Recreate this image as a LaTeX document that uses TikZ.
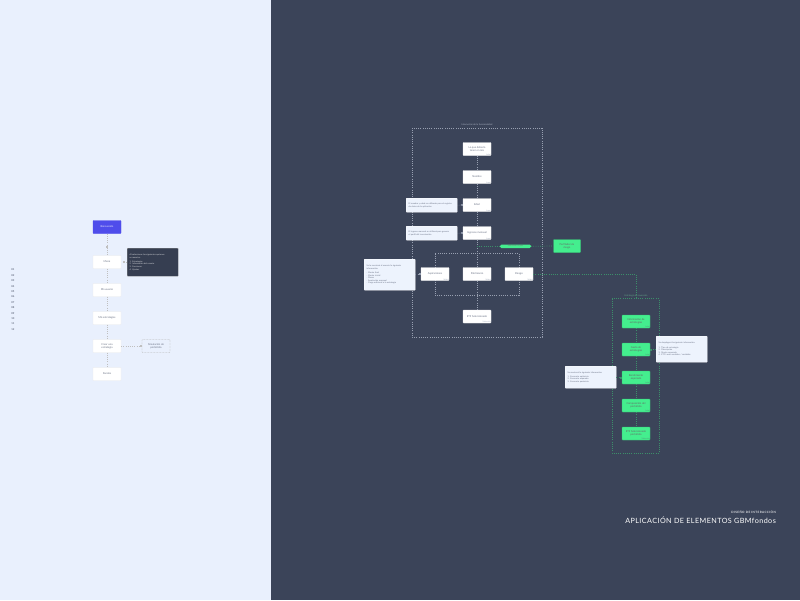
\documentclass[tikz,border=0pt]{standalone}
\usepackage{fontspec}
\setmainfont{Lato}
\usetikzlibrary{arrows.meta}
\definecolor{lightbg}{HTML}{E9F0FD}
\definecolor{darkbg}{HTML}{3B4459}
\definecolor{gbmblue}{HTML}{4F4DEB}
\definecolor{gbmgreen}{HTML}{44EE8E}
\definecolor{notedark}{HTML}{363E51}
\definecolor{notelight}{HTML}{EDF3FD}
\definecolor{linegray}{HTML}{A8B0C0}
\definecolor{txtgray}{HTML}{6B7386}
\definecolor{greenline}{HTML}{3C8F6A}
\tikzset{
  tinyfont/.style={font=\fontsize{2.6}{3.1}\selectfont},
  wbox/.style={rectangle, fill=white, draw=black!8, line width=0.3pt, rounded corners=0.6pt,
    minimum width=28pt, minimum height=13pt, inner sep=0.5pt, align=center, text=txtgray, tinyfont},
  gbox/.style={wbox, fill=gbmgreen, draw=gbmgreen!80!black, text=black!60},
  bbox/.style={wbox, fill=gbmblue, draw=gbmblue, text=white!85!gbmblue},
  lnote/.style={rectangle, fill=notelight, draw=white, line width=0.4pt, rounded corners=0.6pt,
    minimum width=51pt, inner sep=2pt, align=left, text=txtgray, font=\fontsize{2.1}{2.6}\selectfont, anchor=north west},
  dnote/.style={lnote, fill=notedark, draw=black!40, text=white!80!notedark},
  tag/.style={font=\fontsize{2}{2.4}\selectfont, text=linegray, inner sep=0pt, anchor=north east},
  gtag/.style={tag, text=greenline!90!white},
  conn/.style={draw=linegray!85!darkbg, line width=0.7pt, dash pattern=on 0.8pt off 1.4pt},
  lconn/.style={draw=black!25, line width=0.7pt, dash pattern=on 0.8pt off 1.4pt},
  gconn/.style={draw=greenline, line width=0.7pt, dash pattern=on 0.8pt off 1.4pt},
  frame/.style={draw=linegray!85!darkbg, line width=0.7pt, dash pattern=on 0.8pt off 1.4pt},
  gframe/.style={draw=greenline, line width=0.7pt, dash pattern=on 0.8pt off 1.4pt},
  sqtip/.style={-{Square[length=1.6pt,width=1.6pt]}},
  ttl/.style={font=\fontsize{2.3}{2.8}\selectfont, text=linegray, inner sep=0pt},
}
\begin{document}
\begin{tikzpicture}[x=1pt,y=-1pt]
\useasboundingbox (0,0) rectangle (800,600);
\fill[lightbg] (0,0) rectangle (271,600);
\fill[darkbg] (271,0) rectangle (800,600);

% ---------- left legend column ----------
\foreach \i/\t in {0/01,1/02,2/03,3/04,4/05,5/06,6/07,7/08,8/09,9/10,10/11,11/12}{
  \node[font=\fontsize{2.6}{3}\selectfont\bfseries, text=txtgray, inner sep=0pt] (lg\i) at (13,{270+\i*5.4}) {\t};
}

% ---------- left flow ----------
\node[bbox] (l1) at (107,227) {Bienvenido};
\node[wbox] (l2) at (107,262) {Menú};
\node[wbox] (l3) at (107,290) {Mi usuario};
\node[wbox] (l4) at (107,318) {Mis estrategias};
\node[wbox] (l5) at (107,346) {Crear una\\estrategia};
\node[wbox] (l6) at (107,374) {Fondos};
\node[dnote, minimum height=28pt, text width=46pt] (ln) at (127,248) {Al seleccionar las siguientes opciones\\se muestra:\\[1.5pt]1. Estrategias\\2. Información del usuario\\3. Funciones\\4. Ajustes};
\node[wbox, fill=none, draw=black!30, dash pattern=on 2pt off 1pt] (lsim) at (156,346) {Simulación de\\portafolio};

\draw[lconn, sqtip] (l1) -- (107,247.5);
\draw[lconn] (107,247.5) -- (l2);
\draw[lconn] (l2) -- (l3);
\draw[lconn] (l3) -- (l4);
\draw[lconn] (l4) -- (l5);
\draw[lconn] (l5) -- (l6);
\draw[lconn, sqtip] (ln.west |- l2) -- ++(-4,0);
\draw[lconn, sqtip] (l5) -- (lsim.west);

% ---------- main interaction frame ----------
\draw[frame] (412,128) rectangle (542,337);
\node[ttl] (ttl1) at (477,124.5) {Interacción de la funcionalidad};
\draw[frame] (435,253.5) rectangle (519,295.5);

\node[wbox] (r1) at (477,149) {Lo que debería\\tener en mis};
\node[wbox] (r2) at (477,177) {Nombre};
\node[wbox] (r3) at (477,205) {Edad};
\node[wbox] (r4) at (477,233) {Ingresos mensual};
\node[wbox] (a1) at (435,274) {Aspiraciones};
\node[wbox] (a2) at (477,274) {Patrimonio};
\node[wbox] (a3) at (519,274) {Riesgo};
\node[wbox] (r5) at (477,316.5) {ETF Seleccionado};

\node[tag] (t1) at ([yshift=2pt]r1.south east) {Label};
\node[tag] (t2) at ([yshift=2pt]r2.south east) {Input};
\node[tag] (t3) at ([yshift=2pt]r3.south east) {Input};
\node[tag] (t4) at ([yshift=2pt]r4.south east) {Input};
\node[tag] (t5) at ([yshift=2pt]a1.south east) {Select};
\node[tag] (t6) at ([yshift=2pt]a2.south east) {Select};
\node[tag] (t7) at ([yshift=2pt]a3.south east) {Select};
\node[tag] (t8) at ([yshift=2pt]r5.south east) {Selección};

\node[lnote, minimum height=14pt, text width=46pt] (n1) at (406,198) {El nombre y edad se utilizarán para el registro\\de datos de la aplicación};
\node[lnote, minimum height=14pt, text width=46pt] (n2) at (406,226) {El ingreso mensual se utilizará para generar\\el perfil del inversionista};
\node[lnote, minimum height=31pt, text width=46pt] (n3) at (364,259) {Se le mostrará al usuario la siguiente\\información:\\[1.5pt]- Monto final\\- Monto inicial\\- Plazos\\- Aportación mensual\\- Carga adicional a la estrategia};

\draw[conn] (r1) -- (r2);
\draw[conn] (r2) -- (r3);
\draw[conn] (r3) -- (r4);
\draw[conn] (r4) -- (a2);
\draw[conn] (a2) -- (r5);
\draw[conn, sqtip] (n1.east) -- (r3.west);
\draw[conn, sqtip] (n2.east) -- (r4.west);
\draw[conn, sqtip] (n3.east |- a1) -- (a1.west);

% green selection pill and risk profiler
\node[rectangle, fill=gbmgreen, rounded corners=1.5pt, minimum width=31pt, minimum height=3.6pt, inner sep=0pt,
  font=\fontsize{1.8}{2}\selectfont, text=black!55] (pill) at (515.5,246.3) {Seleccionar un plan};
\node[gbox, minimum width=27pt, minimum height=13pt] (pr) at (567,246) {Perfilador de\\riesgo};
\draw[gconn] (477,246.3) -- (pill.west);
\draw[gconn] (pill.east) -- (pr.west);

% ---------- strategy frame ----------
\draw[gframe] (612,298.5) rectangle (659,453);
\node[ttl, text=greenline!80!white] (ttl2) at (636,295.5) {Estrategia de inversión};
\node[gbox] (g1) at (636,321.5) {Información de\\estrategias};
\node[gbox] (g2) at (636,349.5) {Gasto de\\estrategias};
\node[gbox] (g3) at (636,377.5) {Rendimiento\\esperado};
\node[gbox] (g4) at (636,405.5) {Composición del\\portafolio};
\node[gbox] (g5) at (636,433.5) {ETF Seleccionado\\portafolio};
\node[gtag] (gt1) at ([yshift=2pt]g1.south east) {Label};
\node[gtag] (gt2) at ([yshift=2pt]g2.south east) {Label};
\node[gtag] (gt3) at ([yshift=2pt]g3.south east) {Label};
\node[gtag] (gt4) at ([yshift=2pt]g4.south east) {Label};
\node[gtag] (gt5) at ([yshift=2pt]g5.south east) {Selección};
\draw[gconn] (g1) -- (g2);
\draw[gconn] (g2) -- (g3);
\draw[gconn] (g3) -- (g4);
\draw[gconn] (g4) -- (g5);
\draw[gconn] (a3.east) -- (636,274) -- (636,298.5);

\node[lnote, minimum height=26pt, text width=46pt] (n4) at (656,336) {Se desplegará la siguiente información:\\[1.5pt]1. Tipo de estrategia\\2. Descripción\\3. Monto esperado\\4. ETF's más vendidos / rentables};
\node[lnote, minimum height=22pt, text width=46pt] (n5) at (565,366) {Se mostrará la siguiente información:\\[1.5pt]1. Escenario optimista\\2. Escenario esperado\\3. Escenario pesimista};
\draw[gconn, sqtip] (n4.west |- g2) -- (g2.east);
\draw[gconn, sqtip] (n5.east |- g3) -- (g3.west);

% ---------- title ----------
\node[anchor=south east, inner sep=0pt, text=white!85!darkbg, font=\fontsize{3}{3.5}\selectfont\bfseries\addfontfeatures{LetterSpace=14}] (st) at (776,514) {DISEÑO DE INTERACCIÓN};
\node[anchor=north east, inner sep=0pt, text=white, font=\fontsize{7.2}{8.5}\selectfont\addfontfeatures{LetterSpace=6}] (mt) at (776,516.5) {APLICACIÓN DE ELEMENTOS GBMfondos};
\end{tikzpicture}
\end{document}
